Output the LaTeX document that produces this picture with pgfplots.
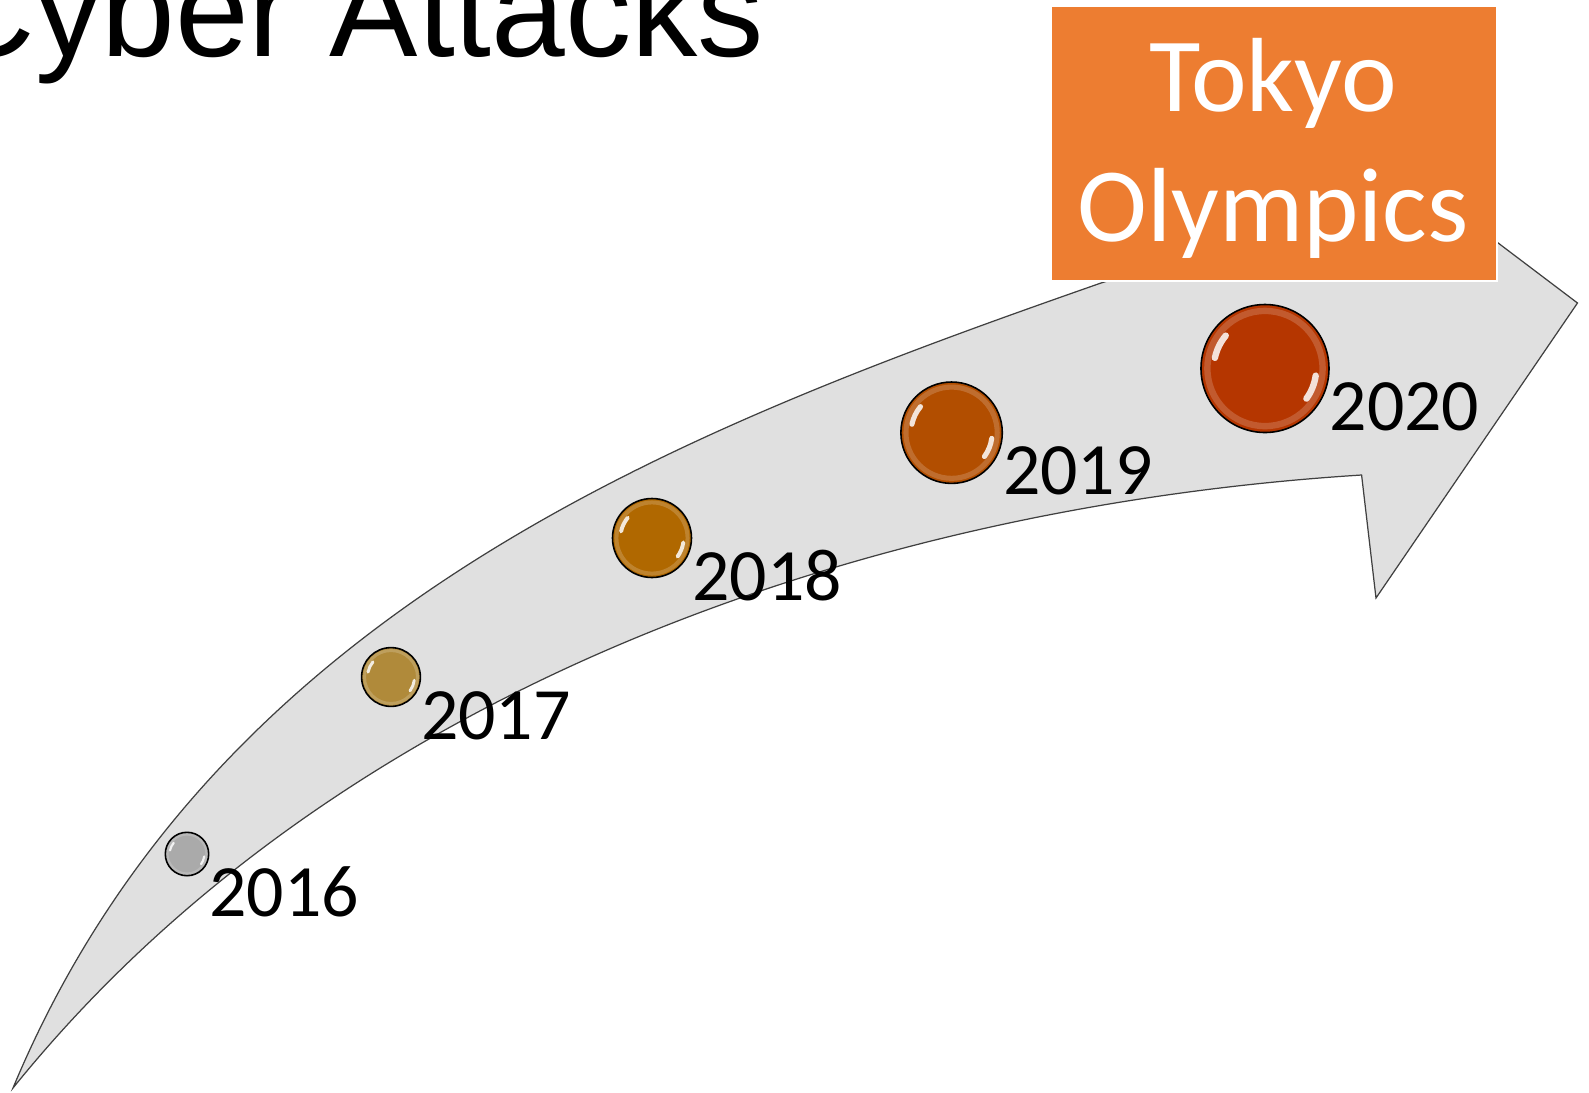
\documentclass[border=0pt]{standalone}
\usepackage{pgfplots}
\usepackage{pgfplotstable}
\pgfplotsset{compat=1.18}
\usepackage{fontspec}
\setmainfont{Carlito}
\newfontfamily\titlefont{Liberation Sans}

\definecolor{boxorange}{RGB}{237,125,49}
\definecolor{arrowgray}{RGB}{224,224,224}

% glossy disc: filled circle plus two white highlights
\pgfdeclareplotmark{gloss}{%
  \pgfpathcircle{\pgfpointorigin}{\pgfplotmarksize}%
  \pgfusepathqfillstroke
  \begin{pgfscope}
    \pgfsetstrokecolor{white}%
    \pgfsetstrokeopacity{0.18}%
    \pgfsetlinewidth{0.1\pgfplotmarksize}%
    \pgfpathcircle{\pgfpointorigin}{0.9\pgfplotmarksize}%
    \pgfusepathqstroke
  \end{pgfscope}
  \begin{pgfscope}
    \pgfsetstrokecolor{white}%
    \pgfsetstrokeopacity{0.85}%
    \pgfsetroundcap
    \pgfsetlinewidth{0.1\pgfplotmarksize}%
    \pgfpathmoveto{\pgfpointpolar{168}{0.8\pgfplotmarksize}}%
    \pgfpatharc{168}{140}{0.8\pgfplotmarksize}%
    \pgfpathmoveto{\pgfpointpolar{-8}{0.8\pgfplotmarksize}}%
    \pgfpatharc{-8}{-36}{0.8\pgfplotmarksize}%
    \pgfusepathqstroke
  \end{pgfscope}
}

% year, centre (px from top left), radius (px)
\pgfplotstableread{
year x y r
2016 187 854 21.7
2017 391 677 29.4
2018 652 538 39.5
2019 951.6 432.7 50.7
2020 1265 368.5 64
}\bubbles

\begin{document}
\begin{tikzpicture}
\path[use as bounding box, clip] (0,0) rectangle (15.89cm,10.93cm);
\begin{axis}[
    hide axis,
    scale only axis,
    width=15.89cm, height=10.93cm,
    xmin=0, xmax=1589, ymin=0, ymax=1093,
    y dir=reverse,
    clip=false,
    colormap={years}{rgb255=(170,170,170) rgb255=(176,138,58) rgb255=(176,104,0) rgb255=(178,78,0) rgb255=(181,54,0)},
    point meta min=2016, point meta max=2020,
]
% curved arrow
\filldraw[fill=arrowgray, draw=black!75, line width=0.35pt]
  (13,1088) .. controls (213,608) and (681,430) .. (1101,283)
  -- (1300,222) -- (1440,199) -- (1577.5,303) -- (1376,598) -- (1361.6,475)
  .. controls (861.6,506.5) and (333,691.2) .. (13,1088)
  -- cycle;

% Tokyo Olympics box
\fill[boxorange] (1051,6) rectangle (1497,281);
\draw[white, line width=0.6pt] (1051,6) rectangle (1497,281);
\node[anchor=base, text=white, inner sep=0pt, font=\fontsize{30pt}{36pt}\selectfont] at (1273,111.5) {Tokyo};
\node[anchor=base, text=white, inner sep=0pt, font=\fontsize{30pt}{36pt}\selectfont] at (1273,241) {Olympics};

% title (cut by the page edge)
\node[anchor=base east, inner sep=0pt, font=\titlefont\fontsize{37.7pt}{44pt}\selectfont] at (765,56) {Cyber Attacks};

% bubbles
\addplot[scatter, only marks, mark=gloss,
    point meta=\thisrow{year},
    scatter/use mapped color={draw=black, fill=mapped color},
    mark options={line width=0.45pt},
    visualization depends on={\thisrow{r} \as \rad},
    scatter/@pre marker code/.append style={/tikz/mark size=\rad*0.28453pt}]
  table[x=x, y=y] {\bubbles};

% year labels
\addplot[draw=none, mark=none, nodes near coords, point meta=explicit symbolic,
    nodes near coords style={anchor=base west, inner sep=0pt, text=black, font=\fontsize{21pt}{25pt}\selectfont}]
  table[x expr=\thisrow{x}+\thisrow{r}, y expr=\thisrow{y}+62, meta=year] {\bubbles};
\end{axis}
\end{tikzpicture}
\end{document}
